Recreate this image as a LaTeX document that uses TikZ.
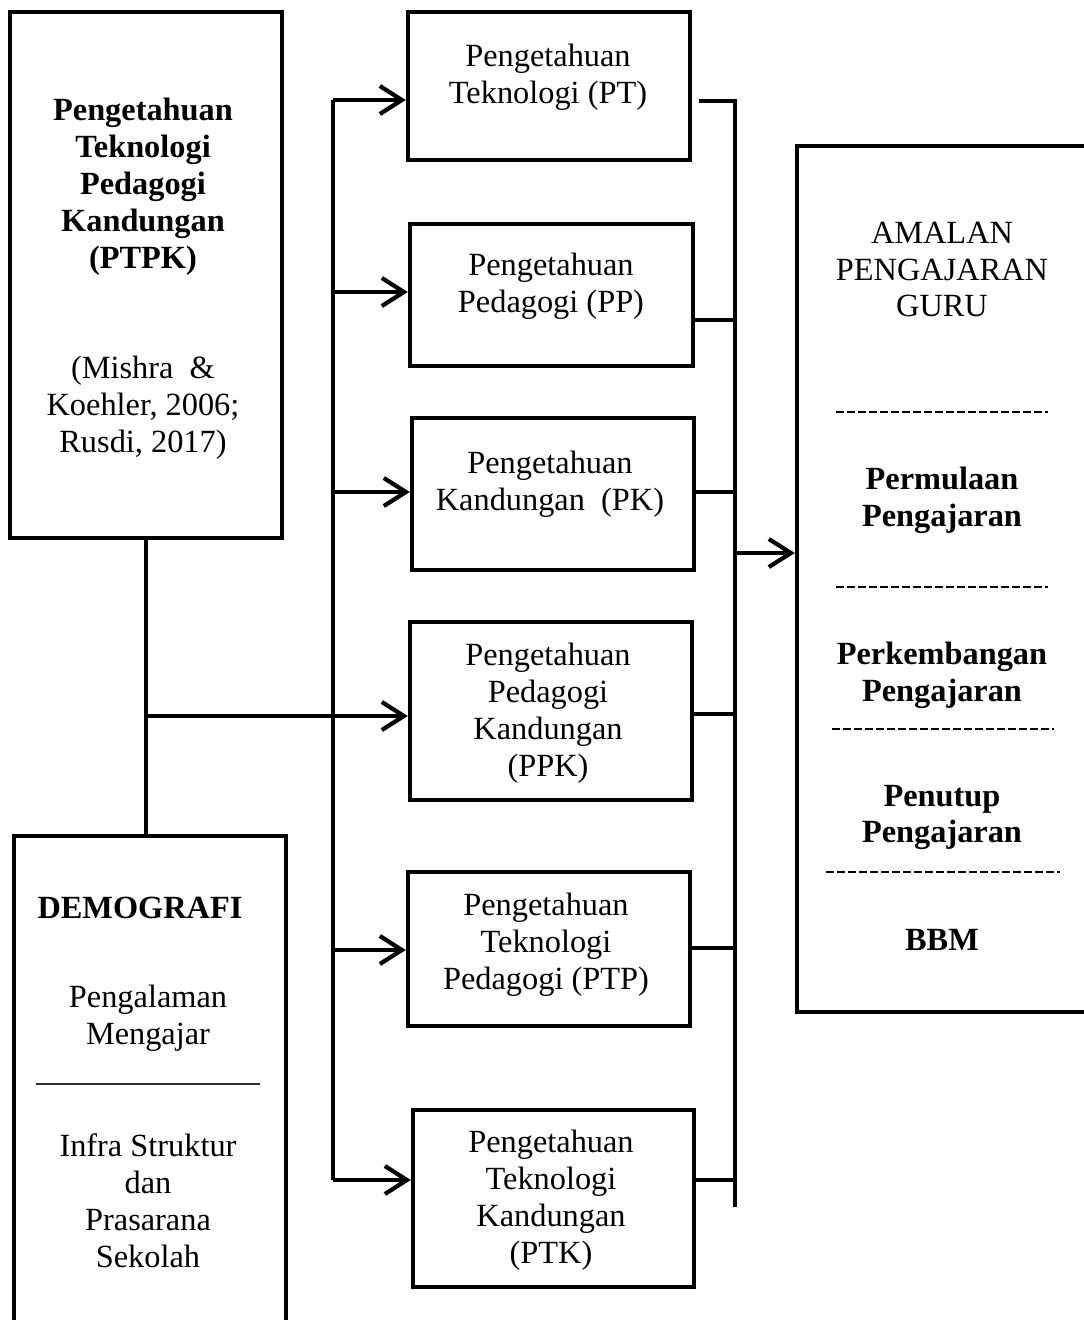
\documentclass[tikz,border=0pt]{standalone}
\usepackage{fontspec}
\setmainfont{Liberation Serif}
\usetikzlibrary{arrows.meta}
\begin{document}
\begin{tikzpicture}[x=0.01cm,y=-0.01cm,
	kotak/.style={draw, line width=1.2pt, inner sep=0pt},
	teks/.style={align=center, inner sep=0pt, font=\fontsize{9.2}{10.5}\selectfont},
	tebal/.style={teks, font=\fontsize{9.2}{10.5}\selectfont\bfseries},
	garis/.style={line width=1.2pt},
	panah/.style={line width=1.2pt, -{Straight Barb[length=2.2mm, width=2.8mm]}},
	putus/.style={line width=0.5pt, dash pattern=on 0.8mm off 0.3mm}]
		\clip (0,0) rectangle (1084,1320);
		\useasboundingbox (0,0) rectangle (1084,1320);
		%Kotak PTPK
		\node[kotak, minimum width=2.72cm, minimum height=5.26cm] (ptpk) at (146,275) {};
		\node[tebal] (ptpkT) at (143,187) {Pengetahuan\\Teknologi\\Pedagogi\\Kandungan\\(PTPK)};
		\node[teks] (ptpkR) at (143,408) {(Mishra\ \ \&\\Koehler, 2006;\\Rusdi, 2017)};
		%Kotak Demografi
		\node[kotak, minimum width=2.72cm, minimum height=5.0cm] (demo) at (150,1086) {};
		\node[tebal] (demoT) at (140,908) {DEMOGRAFI};
		\node[teks] (demoA) at (148,1018) {Pengalaman\\Mengajar};
		\draw[line width=0.6pt, black!80] (36,1084) -- (260,1084);
		\node[teks] (demoB) at (148,1201) {Infra Struktur\\dan\\Prasarana\\Sekolah};
		%Kotak pengetahuan
		\node[kotak, minimum width=2.82cm, minimum height=1.48cm] (pt) at (549,86) {};
		\node[teks] (ptT) at (548,77.5) {Pengetahuan\\Teknologi (PT)};
		\node[kotak, minimum width=2.83cm, minimum height=1.42cm] (pp) at (551.5,295) {};
		\node[teks] (ppT) at (551,286) {Pengetahuan\\Pedagogi (PP)};
		\node[kotak, minimum width=2.82cm, minimum height=1.52cm] (pk) at (553,494) {};
		\node[teks] (pkT) at (550,484.5) {Pengetahuan\\Kandungan\ \ (PK)};
		\node[kotak, minimum width=2.82cm, minimum height=1.78cm] (ppk) at (551,711) {};
		\node[teks] (ppkT) at (548,713) {Pengetahuan\\Pedagogi\\Kandungan\\(PPK)};
		\node[kotak, minimum width=2.82cm, minimum height=1.54cm] (ptp) at (549,949) {};
		\node[teks] (ptpT) at (546,944.5) {Pengetahuan\\Teknologi\\Pedagogi (PTP)};
		\node[kotak, minimum width=2.81cm, minimum height=1.77cm] (ptk) at (553.5,1198.5) {};
		\node[teks] (ptkT) at (551,1200) {Pengetahuan\\Teknologi\\Kandungan\\(PTK)};
		%Kotak amalan
		\node[kotak, minimum width=3.0cm, minimum height=8.66cm] (amalan) at (947,579) {};
		\node[teks] (amalanT) at (942,269.5) {AMALAN\\PENGAJARAN\\GURU};
		\draw[putus] (836,412) -- (1048,412);
		\node[tebal] (mula) at (942,500.5) {Permulaan\\Pengajaran};
		\draw[putus] (836,587) -- (1048,587);
		\node[tebal] (kembang) at (942,675.5) {Perkembangan\\Pengajaran};
		\draw[putus] (832,729) -- (1054,729);
		\node[tebal] (tutup) at (942,817.5) {Penutup\\Pengajaran};
		\draw[putus] (826,872) -- (1060,872);
		\node[tebal] (bbm) at (942,940) {BBM};
		%Garis kiri
		\coordinate (kiriA) at (333,100);
		\coordinate (kiriB) at (333,1180);
		\coordinate (simpang) at (ptpk.south |- 0,716);
		\draw[garis] (ptpk.south) -- (ptpk.south |- demo.north);
		\draw[garis] (kiriA) -- (kiriB);
		\draw[panah] (kiriA) -- (kiriA -| pt.west);
		\draw[panah] (kiriA |- 0,292) -- (pp.west |- 0,292);
		\draw[panah] (kiriA |- 0,492) -- (pk.west |- 0,492);
		\draw[panah] (simpang) -- (ppk.west |- simpang);
		\draw[panah] (kiriA |- 0,950) -- (ptp.west |- 0,950);
		\draw[panah] (kiriB) -- (kiriB -| ptk.west);
		%Garis kanan
		\coordinate (kananA) at (735,101);
		\coordinate (kananB) at (735,1207);
		\draw[garis] ([xshift=0.07cm]pt.east |- kananA) -- (kananA) -- (kananB);
		\draw[garis] (pp.east |- 0,320) -- (kananA |- 0,320);
		\draw[garis] (pk.east |- 0,492) -- (kananA |- 0,492);
		\draw[garis] (ppk.east |- 0,714) -- (kananA |- 0,714);
		\draw[garis] (ptp.east |- 0,948) -- (kananA |- 0,948);
		\draw[garis] (ptk.east |- 0,1180) -- (kananA |- 0,1180);
		\draw[panah] (kananA |- 0,553) -- (amalan.west |- 0,553);
\end{tikzpicture}
\end{document}
